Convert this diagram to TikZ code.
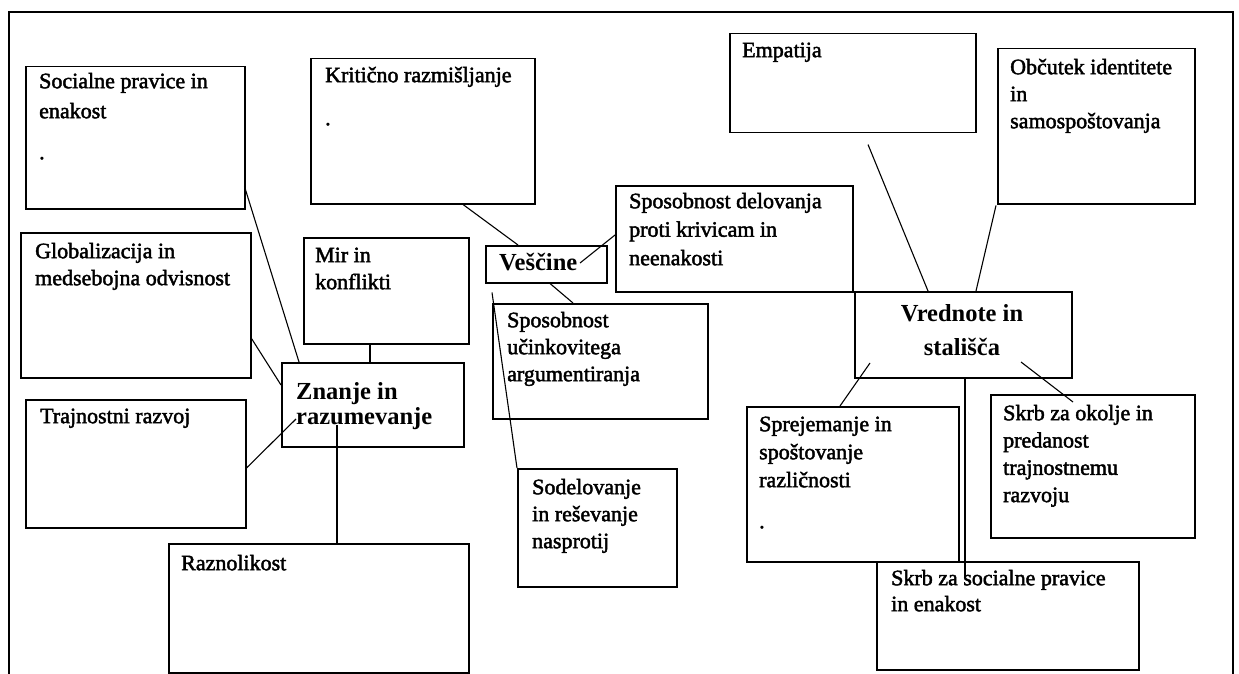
\documentclass[tikz,border=0pt]{standalone}
\usepackage{fontspec}
\setmainfont{Liberation Serif}
\newfontfamily\bodyfont[FakeBold=2]{Liberation Serif}
\newcommand\fst{\rule{0pt}{16pt}}
\newcommand\hst{\rule{0pt}{18pt}}
\tikzset{
  box/.style={draw, line width=1.5pt, inner sep=0pt, anchor=north west},
  txt/.style={anchor=north west, inner sep=0pt, align=left, font=\bodyfont\fontsize{22}{#1}\selectfont},
  txt/.default=27.5,
  hdr/.style={anchor=north west, inner sep=0pt, align=left, font=\bfseries\fontsize{24.5}{#1}\selectfont},
  hdr/.default=25,
  link/.style={line width=1.1pt},
  frame/.style={line width=2pt}
}
\begin{document}
\begin{tikzpicture}[x=1pt,y=-1pt]
\useasboundingbox (0,0) rectangle (1239,674);
\draw[frame] (9,674) -- (9,12) -- (1233,12) -- (1233,674);

% boxes
\node[box, minimum width=219pt, minimum height=142pt] (soc)   at (25,66)  {};
\node[box, minimum width=224pt, minimum height=145pt] (krit)  at (310,58) {};
\node[box, minimum width=230pt, minimum height=145pt] (glob)  at (20,232) {};
\node[box, minimum width=165pt, minimum height=106pt] (mir)   at (303,237) {};
\node[box, minimum width=121pt, minimum height=37pt]  (ves)   at (485,245) {};
\node[box, minimum width=237pt, minimum height=106pt] (deli)  at (615,185) {};
\node[box, minimum width=215pt, minimum height=115pt] (ucin)  at (492,303) {};
\node[box, minimum width=246pt, minimum height=99pt]  (emp)   at (729,33)  {};
\node[box, minimum width=197pt, minimum height=155pt] (obc)   at (997,48)  {};
\node[box, minimum width=217pt, minimum height=86pt]  (vred)  at (854,291) {};
\node[box, minimum width=182pt, minimum height=84pt]  (znan)  at (281,362) {};
\node[box, minimum width=220pt, minimum height=128pt] (traj)  at (25,399)  {};
\node[box, minimum width=300pt, minimum height=129pt] (razn)  at (168,543) {};
\node[box, minimum width=159pt, minimum height=118pt] (sod)   at (517,468) {};
\node[box, minimum width=212pt, minimum height=155pt] (sprej) at (746,406) {};
\node[box, minimum width=204pt, minimum height=143pt] (okol)  at (990,394) {};
\node[box, minimum width=262pt, minimum height=108pt] (skrbs) at (876,561) {};

% texts
\node[txt=30] (socT) at (39,72) {\fst Socialne pravice in\\enakost\\[11pt].};
\node[txt] (kritT) at (325,66) {\fst Kritično razmišljanje\\[15.5pt].};
\node[txt=27] (globT) at (35,242) {\fst Globalizacija in\\medsebojna odvisnost};
\node[txt=27] (mirT) at (315,246) {\fst Mir in\\konflikti};
\node[hdr] (vesT) at (499,252) {\hst Veščine};
\node[txt=28.5] (deliT) at (629,192) {\fst Sposobnost delovanja\\proti krivicam in\\neenakosti};
\node[txt=27] (ucinT) at (507,311) {\fst Sposobnost\\učinkovitega\\argumentiranja};
\node[txt] (empT) at (742,41) {\fst Empatija};
\node[txt=27] (obcT) at (1010,58) {\fst Občutek identitete\\in\\samospoštovanja};
\node[hdr=34, anchor=north, align=center] (vredT) at (962,303) {\hst Vrednote in\\stališča};
\node[hdr] (znanT) at (296,381) {\hst Znanje in\\razumevanje};
\node[txt] (trajT) at (40,407) {\fst Trajnostni razvoj};
\node[txt] (raznT) at (181,554) {\fst Raznolikost};
\node[txt=27] (sodT) at (532,478) {\fst Sodelovanje\\in reševanje\\nasprotij};
\node[txt=28] (sprejT) at (759,415) {\fst Sprejemanje in\\spoštovanje\\različnosti\\[13pt].};
\node[txt=27.3] (okolT) at (1003,404) {\fst Skrb za okolje in\\predanost\\trajnostnemu\\razvoju};
\node[txt=26] (skrbsT) at (891,569) {\fst Skrb za socialne pravice\\in enakost};

% connectors
\draw[link] ([shift={(-1,-23)}]soc.south east) -- ([shift={(18,0)}]znan.north west);
\draw[link] ([shift={(0,-40)}]glob.south east) -- ([shift={(0,23)}]znan.north west);
\draw[link] ([shift={(0,69)}]traj.north east) -- ([shift={(15,57)}]znan.north west);
\draw[link] ([shift={(67,0)}]mir.south west) -- ([shift={(89,0)}]znan.north west);
\draw[link] ([shift={(56,63)}]znan.north west) -- ([shift={(169,0)}]razn.north west);
\draw[link] ([shift={(153,0)}]krit.south west) -- ([shift={(33,0)}]ves.north west);
\draw[link] ([shift={(95,18)}]ves.north west) -- ([shift={(0,50)}]deli.north west);
\draw[link] ([shift={(65,0)}]ves.south west) -- ([shift={(81,0)}]ucin.north west);
\draw[link] ([shift={(7,9)}]ves.south west) -- (sod.north west);
\draw[link] ([shift={(139,11)}]emp.south west) -- ([shift={(74,0)}]vred.north west);
\draw[link] ([shift={(-1,1)}]obc.south west) -- ([shift={(122,0)}]vred.north west);
\draw[link] ([shift={(16,72)}]vred.north west) -- ([shift={(94,0)}]sprej.north west);
\draw[link] ([shift={(167,71)}]vred.north west) -- ([shift={(83,8)}]okol.north west);
\draw[link] ([shift={(111,0)}]vred.south west) -- ([shift={(89,17)}]skrbs.north west);
\end{tikzpicture}
\end{document}
